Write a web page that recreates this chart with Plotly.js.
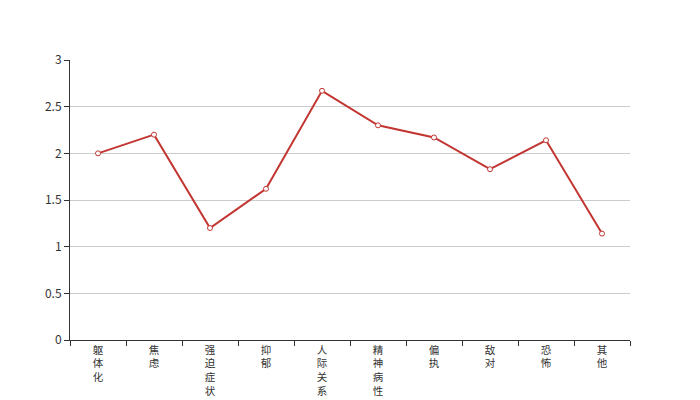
<!DOCTYPE html>
<html>
<head>
<meta charset="utf-8">
<script src="https://cdn.plot.ly/plotly-3.0.1.min.js"></script>
<style>html,body{margin:0;padding:0;background:#fff;}</style>
</head>
<body>
<div id="chart" style="width:700px;height:400px;"></div>
<script>
const categories = ['躯体化','焦虑','强迫症状','抑郁','人际关系','精神病性','偏执','敌对','恐怖','其他'];
const values = [2.0, 2.2, 1.2, 1.62, 2.67, 2.3, 2.17, 1.83, 2.14, 1.14];
const yTicks = [0, 0.5, 1, 1.5, 2, 2.5, 3];
const yTickText = ['0', '0.5', '1', '1.5', '2', '2.5', '3'];

const tickText = categories.map(c => c.split('').join('<br>'));

const trace = {
  x: categories,
  y: values,
  type: 'scatter',
  mode: 'lines+markers',
  line: {color: '#c23531', width: 2},
  marker: {symbol: 'circle', size: 5, color: '#ffffff', line: {color: '#c23531', width: 1}},
  hoverinfo: 'x+y'
};

const layout = {
  width: 700,
  height: 400,
  margin: {l: 70, r: 70, t: 60, b: 60},
  paper_bgcolor: '#ffffff',
  plot_bgcolor: '#ffffff',
  showlegend: false,
  font: {family: '"Noto Sans CJK SC", "Noto Sans", sans-serif', size: 12, color: '#333'},
  xaxis: {
    type: 'category',
    tickmode: 'array',
    tickvals: categories,
    ticktext: tickText,
    tickson: 'boundaries',
    ticks: 'outside',
    ticklen: 5,
    tickcolor: '#333',
    showline: true,
    linecolor: '#333',
    linewidth: 1,
    showgrid: false,
    zeroline: false,
    tickangle: 0,
    tickfont: {size: 10.5, color: '#333'},
    range: [-0.5, 9.5]
  },
  yaxis: {
    range: [0, 3],
    tickmode: 'array',
    tickvals: yTicks,
    ticktext: yTickText,
    ticks: 'outside',
    ticklen: 5,
    tickcolor: '#333',
    showline: true,
    linecolor: '#333',
    linewidth: 1,
    showgrid: true,
    gridcolor: '#ccc',
    gridwidth: 1,
    zeroline: false,
    tickfont: {size: 12, color: '#333'}
  }
};

Plotly.newPlot('chart', [trace], layout, {displayModeBar: false, staticPlot: true});
</script>
</body>
</html>
